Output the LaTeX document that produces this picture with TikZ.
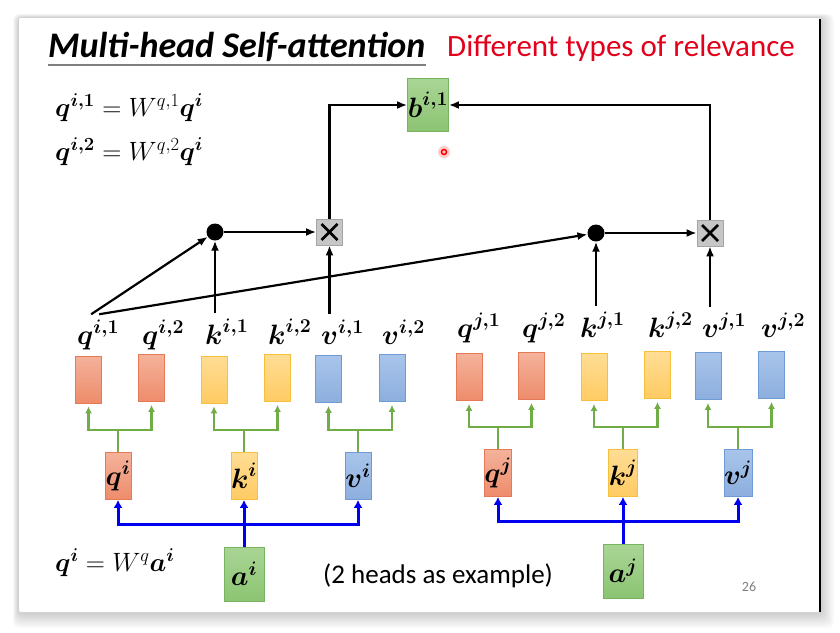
\RequirePackage{fix-cm}
\documentclass[tikz,border=0pt]{standalone}
\usepackage{amsmath}
\usepackage[no-math]{fontspec}
\setmainfont{Carlito}
\usetikzlibrary{arrows.meta}

\definecolor{qtop}{HTML}{F4B29B}
\definecolor{qbot}{HTML}{EE8C6B}
\definecolor{qline}{HTML}{E47A57}
\definecolor{ktop}{HTML}{FFDD95}
\definecolor{kbot}{HTML}{FFCB63}
\definecolor{kline}{HTML}{F5C03C}
\definecolor{vtop}{HTML}{A8C4EA}
\definecolor{vbot}{HTML}{8DAFDE}
\definecolor{vline}{HTML}{6E9BD3}
\definecolor{atop}{HTML}{A9D595}
\definecolor{abot}{HTML}{8CC472}
\definecolor{aline}{HTML}{78B35F}
\definecolor{mulfill}{HTML}{C6C6C6}
\definecolor{mulline}{HTML}{A5A5A5}
\definecolor{fork}{HTML}{70AD47}
\definecolor{feed}{HTML}{0000F0}
\definecolor{relred}{HTML}{E3001B}

\newcommand{\vlab}[2]{$\boldsymbol{#1}^{\boldsymbol{#2}}$}

\tikzset{
  vecbox/.style={draw, line width=0.8pt, minimum width=26pt, minimum height=47pt, inner sep=0pt},
  qbox/.style={vecbox, draw=qline, top color=qtop, bottom color=qbot},
  kbox/.style={vecbox, draw=kline, top color=ktop, bottom color=kbot},
  vbox/.style={vecbox, draw=vline, top color=vtop, bottom color=vbot},
  abox/.style={vecbox, draw=aline, top color=atop, bottom color=abot, minimum width=40pt, minimum height=54pt},
  mulbox/.style={draw=mulline, fill=mulfill, line width=0.8pt, minimum size=26pt, inner sep=0pt,
    path picture={\draw[black, line width=2.8pt]
      ([shift={(-8pt,-8pt)}]path picture bounding box.center) -- ([shift={(8pt,8pt)}]path picture bounding box.center)
      ([shift={(-8pt,8pt)}]path picture bounding box.center) -- ([shift={(8pt,-8pt)}]path picture bounding box.center);}},
  dotnode/.style={circle, fill=black, minimum size=17pt, inner sep=0pt},
  veclab/.style={anchor=base west, inner sep=0pt, outer ysep=6pt},
  arr/.style={line width=2.2pt, -{Latex[length=10pt,width=8pt]}},
  garr/.style={draw=fork, line width=2.4pt, -{Latex[length=7pt,width=7pt]}, shorten >=3pt},
  barr/.style={draw=feed, line width=3pt},
}

\begin{document}
\begin{tikzpicture}[x=1pt,y=-1pt,font=\fontsize{28}{28}\selectfont]
\useasboundingbox (0,0) rectangle (840,632);
\fill[white] (0,0) rectangle (840,632);
\foreach \s in {1,...,10}
  \fill[black, opacity=0.02, rounded corners=6pt] (19-\s*0.6,18-\s*0.4) rectangle (820+\s*1.4,612+\s*1.6);
\fill[white, rounded corners=2pt] (19,18) rectangle (820,612);
\draw[line width=2pt] (820,19) -- (820,612);

\node[anchor=base west, inner sep=0pt, font=\fontsize{36}{36}\selectfont\bfseries\itshape] (title) at (48,57) {Multi-head Self-attention};
\draw[gray, line width=1.4pt] ([yshift=-8pt]title.base west) -- ([yshift=-8pt]title.base east);
\node[anchor=base west, inner sep=0pt, text=relred, font=\fontsize{31}{31}\selectfont] (sub) at (447,56) {Different types of relevance};

\node[anchor=base west, inner sep=0pt, font=\fontsize{26.5}{26.5}\selectfont] (eqa) at (55,116) {$\boldsymbol{q}^{\boldsymbol{i,1}} = W^{q,1}\boldsymbol{q}^{\boldsymbol{i}}$};
\node[anchor=base west, inner sep=0pt, font=\fontsize{26.5}{26.5}\selectfont] (eqb) at (55,160) {$\boldsymbol{q}^{\boldsymbol{i,2}} = W^{q,2}\boldsymbol{q}^{\boldsymbol{i}}$};
\node[anchor=base west, inner sep=0pt, font=\fontsize{26.5}{26.5}\selectfont] (eqc) at (55,571) {$\boldsymbol{q}^{\boldsymbol{i}} = W^{q}\boldsymbol{a}^{\boldsymbol{i}}$};
\node[anchor=base west, inner sep=0pt, font=\fontsize{27}{27}\selectfont] (note) at (323,583) {(2 heads as example)};
\node[text=gray, font=\fontsize{14}{14}\selectfont] (pnum) at (749,587) {26};

\node[abox, minimum width=41pt, minimum height=53pt] (bi1) at (428,105) {\vlab{b}{i,1}};
\fill[red!40, opacity=0.5] (444,152) circle (6);
\draw[red, line width=1.5pt] (444,152) circle (2.5);

\node[dotnode] (dotA) at (215,232) {};
\node[mulbox] (mulA) at (329.5,232) {};
\node[dotnode] (dotB) at (596,233) {};
\node[mulbox] (mulB) at (710,233) {};

\node[qbox] (qi1) at (88.5,379.5) {};
\node[qbox] (qi2) at (151.5,378) {};
\node[kbox] (ki1) at (214,379.5) {};
\node[kbox] (ki2) at (277.5,378) {};
\node[vbox] (vi1) at (328.5,379) {};
\node[vbox] (vi2) at (392,378) {};
\node[qbox] (qj1) at (469,377) {};
\node[qbox] (qj2) at (531.5,376) {};
\node[kbox] (kj1) at (594,377) {};
\node[kbox] (kj2) at (657.5,375) {};
\node[vbox] (vj1) at (708,376) {};
\node[vbox] (vj2) at (771.5,375) {};

\node[veclab] (lqi1) at (77,344) {\vlab{q}{i,1}};
\node[veclab] (lqi2) at (142,344) {\vlab{q}{i,2}};
\node[veclab] (lki1) at (205,344) {\vlab{k}{i,1}};
\node[veclab] (lki2) at (268,344) {\vlab{k}{i,2}};
\node[veclab] (lvi1) at (321,344) {\vlab{v}{i,1}};
\node[veclab] (lvi2) at (382,344) {\vlab{v}{i,2}};
\node[veclab] (lqj1) at (457,337) {\vlab{q}{j,1}};
\node[veclab] (lqj2) at (522,337) {\vlab{q}{j,2}};
\node[veclab] (lkj1) at (580,337) {\vlab{k}{j,1}};
\node[veclab] (lkj2) at (648,337) {\vlab{k}{j,2}};
\node[veclab] (lvj1) at (702,337) {\vlab{v}{j,1}};
\node[veclab] (lvj2) at (761,337) {\vlab{v}{j,2}};

\node[qbox] (qi) at (118,476) {\vlab{q}{i}};
\node[kbox] (ki) at (244,476) {\vlab{k}{i}};
\node[vbox] (vi) at (358,476) {\vlab{v}{i}};
\node[qbox] (qj) at (498,473) {\vlab{q}{j}};
\node[kbox] (kj) at (623,473) {\vlab{k}{j}};
\node[vbox] (vj) at (738,473) {\vlab{v}{j}};
\node[abox] (ai) at (244,574) {\vlab{a}{i}};
\node[abox] (aj) at (623,571) {\vlab{a}{j}};

\draw[arr] ([xshift=-7pt]lqi1.north) -- (dotA);
\draw[arr] ([xshift=1pt]lqi1.north) -- (dotB);
\draw[arr] (lki1.north -| dotA) -- (dotA);
\draw[arr] (lvi1.north -| mulA) -- (mulA);
\draw[arr] (lkj1.north -| dotB) -- (dotB);
\draw[arr] (lvj1.north -| mulB) -- (mulB);
\draw[arr] (dotA) -- (mulA);
\draw[arr] (dotB) -- (mulB);
\draw[arr] (mulA) |- (bi1);
\draw[arr] (mulB) |- (bi1);

\draw[garr] (qi.north) -- ++(0,-22) -| (qi1.south);
\draw[garr] (qi.north) -- ++(0,-22) -| (qi2.south);
\draw[garr] (ki.north) -- ++(0,-22) -| (ki1.south);
\draw[garr] (ki.north) -- ++(0,-22) -| (ki2.south);
\draw[garr] (vi.north) -- ++(0,-22) -| (vi1.south);
\draw[garr] (vi.north) -- ++(0,-22) -| (vi2.south);
\draw[garr] (qj.north) -- ++(0,-22) -| (qj1.south);
\draw[garr] (qj.north) -- ++(0,-22) -| (qj2.south);
\draw[garr] (kj.north) -- ++(0,-22) -| (kj1.south);
\draw[garr] (kj.north) -- ++(0,-22) -| (kj2.south);
\draw[garr] (vj.north) -- ++(0,-22) -| (vj1.south);
\draw[garr] (vj.north) -- ++(0,-22) -| (vj2.south);

\draw[barr, {Latex[length=8pt,width=9pt]}-{Latex[length=8pt,width=9pt]}] (qi.south) -- ++(0,25) -| (vi.south);
\draw[barr, -{Latex[length=8pt,width=9pt]}] (ai) -- (ki);
\draw[barr, {Latex[length=8pt,width=9pt]}-{Latex[length=8pt,width=9pt]}] (qj.south) -- ++(0,25) -| (vj.south);
\draw[barr, -{Latex[length=8pt,width=9pt]}] (aj) -- (kj);
\end{tikzpicture}
\end{document}
